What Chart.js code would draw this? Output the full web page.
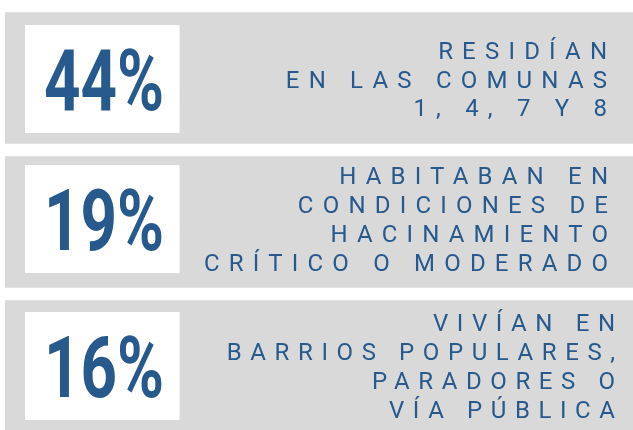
<!DOCTYPE html>
<html>
<head>
<meta charset="utf-8">
<script src="https://cdn.jsdelivr.net/npm/chart.js@4"></script>
<style>
  html, body { margin: 0; padding: 0; background: #ffffff; overflow: hidden; }
  #wrap { width: 633px; height: 438px; position: relative; }
</style>
</head>
<body>
<div id="wrap"><canvas id="c" width="633" height="438"></canvas></div>
<script>
// ---- data ----
const categories = ["Comunas 1, 4, 7 y 8", "Hacinamiento", "Barrios populares"];
const percentValues = [44, 19, 16];
const panelTotals = [100, 100, 100];
const descLines = [
  ["RESIDÍAN", "EN LAS COMUNAS", "1, 4, 7 Y 8"],
  ["HABITABAN EN", "CONDICIONES DE", "HACINAMIENTO", "CRÍTICO O MODERADO"],
  ["VIVÍAN EN", "BARRIOS POPULARES,", "PARADORES O", "VÍA PÚBLICA"]
];

// ---- style / layout ----
const BLUE = "#27598d";
const GRAY = "#d9d9d9";
const layout = {
  rowNudge: [1, -3, 0],
  textRight: [607, 608, 615],
  rowSpacing: [9.2, 9.2, 8.6],
  boxLeft: 25, boxRight: 179.5, boxHeight: 108,
  numCenterX: 104, numFontSize: 86, numScaleX: 0.74, numCap: 61,
  textFontSize: 24, lineHeight: 28.7, textCap: 17
};

const infoPlugin = {
  id: "infoPlugin",
  afterDatasetsDraw(chart) {
    const ctx = chart.ctx;
    const meta = chart.getDatasetMeta(0);
    meta.data.forEach((bar, i) => {
      const cy = bar.y + layout.rowNudge[i];
      // white box
      ctx.save();
      ctx.fillStyle = "#ffffff";
      ctx.fillRect(layout.boxLeft, cy - layout.boxHeight / 2,
                   layout.boxRight - layout.boxLeft, layout.boxHeight);
      // big number
      ctx.fillStyle = BLUE;
      ctx.font = "bold " + layout.numFontSize + "px Roboto";
      ctx.textAlign = "center";
      ctx.textBaseline = "alphabetic";
      ctx.translate(layout.numCenterX, cy + layout.numCap / 2);
      ctx.scale(layout.numScaleX, 1);
      ctx.fillText(percentValues[i] + "%", 0, 0);
      ctx.restore();

      // description
      ctx.save();
      ctx.fillStyle = BLUE;
      ctx.font = "400 " + layout.textFontSize + "px Roboto";
      const ls = layout.rowSpacing[i];
      ctx.letterSpacing = ls + "px";
      ctx.textAlign = "left";
      ctx.textBaseline = "alphabetic";
      const lines = descLines[i];
      const n = lines.length;
      const midBase = cy + layout.textCap / 2;
      lines.forEach((ln, k) => {
        const base = midBase + (k - (n - 1) / 2) * layout.lineHeight;
        const w = ctx.measureText(ln).width;
        ctx.fillText(ln, layout.textRight[i] - (w - ls), base);
      });
      ctx.restore();
    });
  }
};

new Chart(document.getElementById("c"), {
  type: "bar",
  data: {
    labels: categories,
    datasets: [{
      label: "Total",
      data: panelTotals,
      backgroundColor: GRAY,
      borderWidth: 0,
      barThickness: 131
    }]
  },
  options: {
    indexAxis: "y",
    responsive: false,
    devicePixelRatio: 1,
    animation: false,
    layout: { padding: { left: 5, right: 0, top: 6, bottom: 0 } },
    scales: {
      x: { display: false, min: 0, max: 100 },
      y: { display: false }
    },
    plugins: {
      legend: { display: false },
      tooltip: { enabled: false }
    }
  },
  plugins: [infoPlugin]
});
</script>
</body>
</html>
